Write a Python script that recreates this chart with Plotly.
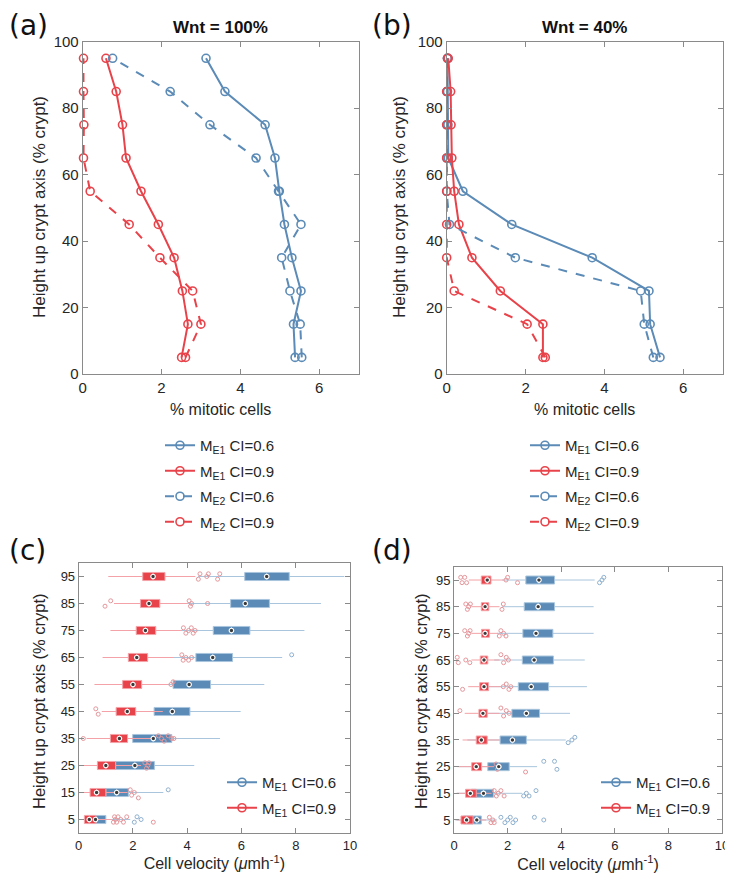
import plotly.graph_objects as go

# ---------------- data ----------------
heights = [5, 15, 25, 35, 45, 55, 65, 75, 85, 95]

# panel (a) Wnt = 100%  (% mitotic cells)
a_me1_06 = [5.39, 5.35, 5.54, 5.31, 5.12, 4.99, 4.88, 4.63, 3.61, 3.13]
a_me1_09 = [2.51, 2.67, 2.53, 2.32, 1.92, 1.48, 1.10, 1.01, 0.85, 0.59]
a_me2_06 = [5.56, 5.52, 5.26, 5.05, 5.54, 4.97, 4.40, 3.23, 2.22, 0.76]
a_me2_09 = [2.61, 3.00, 2.79, 1.96, 1.18, 0.19, 0.02, 0.03, 0.02, 0.02]

# panel (b) Wnt = 40%
b_me1_06 = [5.41, 5.16, 5.13, 3.69, 1.65, 0.41, 0.04, 0.03, 0.02, 0.02]
b_me1_09 = [2.44, 2.44, 1.36, 0.64, 0.31, 0.19, 0.13, 0.11, 0.10, 0.04]
b_me2_06 = [5.24, 5.01, 4.92, 1.74, 0.07, 0.00, 0.00, 0.00, 0.00, 0.02]
b_me2_09 = [2.50, 2.04, 0.19, 0.00, 0.00, 0.00, 0.00, 0.00, 0.00, 0.02]

series_names = ["M<sub>E1</sub> CI=0.6", "M<sub>E1</sub> CI=0.9",
                "M<sub>E2</sub> CI=0.6", "M<sub>E2</sub> CI=0.9"]

# panel (c) cell velocity, Wnt = 100%
c_blue_q1 = [0.30, 1.00, 1.36, 1.99, 2.78, 3.48, 4.32, 4.96, 5.60, 6.12]
c_blue_med = [0.62, 1.40, 2.07, 2.75, 3.45, 4.07, 4.94, 5.63, 6.14, 6.93]
c_blue_q3 = [1.00, 1.83, 2.79, 3.43, 4.10, 4.86, 5.67, 6.31, 7.03, 7.76]
c_blue_lo = [0.00, 0.05, 0.10, 0.50, 1.00, 1.60, 2.50, 3.00, 3.60, 4.40]
c_blue_hi = [1.90, 3.12, 4.26, 5.21, 5.97, 6.84, 7.50, 8.32, 8.93, 9.79]
c_red_q1 = [0.21, 0.42, 0.69, 1.17, 1.38, 1.62, 1.83, 2.12, 2.28, 2.36]
c_red_med = [0.39, 0.66, 1.00, 1.50, 1.79, 2.00, 2.14, 2.46, 2.59, 2.74]
c_red_q3 = [0.64, 1.00, 1.36, 1.80, 2.10, 2.32, 2.54, 2.84, 2.99, 3.18]
c_red_lo = [0.05, 0.01, 0.08, 0.29, 0.85, 0.58, 0.88, 1.17, 1.30, 1.09]
c_red_hi = [1.20, 1.80, 2.30, 2.80, 3.10, 3.30, 3.50, 3.80, 4.00, 4.30]
c_red_out_x = [1.28, 1.32, 1.35, 1.40, 1.45, 1.55, 1.65, 1.77, 2.75,
               1.90, 1.95, 2.05, 2.20,
               2.44, 2.50, 2.55, 2.59,
               0.17, 2.94, 3.05, 3.15, 3.30, 3.43, 3.51,
               0.63, 0.72,
               3.40, 3.48,
               3.80, 3.85, 3.95, 4.05, 4.16,
               3.86, 3.95, 4.05, 4.15, 4.22, 4.29,
               0.97, 1.18, 4.07, 4.12, 4.16, 4.75,
               4.41, 4.47, 4.72, 4.78, 5.12, 5.20]
c_red_out_y = [4, 6, 5, 4, 6, 5, 4, 6, 4,
               16, 14, 15, 13,
               26, 24, 25, 26,
               35, 36, 35, 34, 36, 35, 35,
               46, 44,
               55, 56,
               66, 64, 65, 64, 65,
               76, 74, 75, 76, 74, 75,
               84, 86, 86, 84, 85, 85,
               94, 96, 95, 96, 94, 96]
c_blue_out_x = [2.05, 2.15, 2.30, 3.30, 7.85]
c_blue_out_y = [4, 6, 5, 16, 66]

# panel (d) cell velocity, Wnt = 40%
d_blue_q1 = [0.35, 0.65, 1.26, 1.72, 2.16, 2.40, 2.55, 2.57, 2.62, 2.68]
d_blue_med = [0.85, 1.10, 1.67, 2.18, 2.70, 2.88, 2.99, 3.06, 3.14, 3.17]
d_blue_q3 = [1.02, 1.47, 2.06, 2.70, 3.19, 3.53, 3.71, 3.69, 3.75, 3.75]
d_blue_lo = [0.05, 0.10, 0.20, 0.50, 1.00, 1.30, 1.50, 1.60, 1.80, 1.80]
d_blue_hi = [1.60, 2.55, 3.10, 4.17, 4.33, 4.96, 4.88, 5.21, 5.21, 5.25]
d_red_q1 = [0.26, 0.43, 0.66, 0.83, 0.93, 0.96, 0.98, 1.03, 1.02, 1.02]
d_red_med = [0.47, 0.61, 0.83, 1.02, 1.08, 1.12, 1.12, 1.16, 1.16, 1.24]
d_red_q3 = [0.71, 0.83, 1.03, 1.24, 1.24, 1.29, 1.26, 1.32, 1.30, 1.38]
d_red_lo = [0.10, 0.10, 0.12, 0.32, 0.40, 0.53, 0.65, 0.65, 0.65, 0.55]
d_red_hi = [1.20, 1.40, 1.50, 1.70, 1.70, 1.75, 1.70, 1.65, 1.70, 1.85]
d_red_out_x = [1.32, 1.38, 1.45, 1.50,
               1.50, 1.58, 1.65, 1.75, 1.87,
               1.57, 1.62, 1.69, 2.67,
               0.22, 1.75, 1.85, 1.95, 2.06,
               0.32, 1.84, 1.95, 2.05, 2.12,
               0.12, 0.16, 0.44, 0.59, 1.75, 1.85, 1.95, 2.03,
               0.40, 0.50, 0.55, 0.60, 1.69, 1.75, 1.85, 1.94,
               0.44, 0.50, 0.55, 0.61, 1.79, 1.84,
               0.25, 0.30, 0.40, 0.47, 1.94, 2.00, 2.37]
d_red_out_y = [6, 4, 5, 4,
               16, 14, 15, 16, 14,
               26, 24, 25, 23,
               46, 47, 44, 46, 45,
               54, 55, 56, 54, 55,
               66, 64, 65, 64, 67, 64, 66, 65,
               76, 74, 75, 76, 74, 76, 75, 74,
               86, 84, 85, 86, 84, 86,
               96, 94, 96, 94, 95, 96, 94]
d_blue_out_x = [1.75, 1.90, 2.00, 2.10, 2.20, 2.30, 3.00, 3.35,
                2.60, 2.70, 2.80, 3.06,
                3.35, 3.75, 3.84,
                4.26, 4.40, 4.51,
                5.43, 5.52, 5.59]
d_blue_out_y = [6, 4, 5, 6, 4, 5, 6, 5,
                14, 15, 14, 16,
                27, 27, 24,
                34, 35, 36,
                94, 95, 96]

# ---------------- style ----------------
BLUE = "#5b8bb6"
RED = "#e8434a"
BLUE_L = "#a9c5dd"
RED_L = "#f4a2a7"
BLUE_O = "#8fb1cf"
RED_O = "#e5979c"
FONT = "Liberation Sans, Arial, sans-serif"
AXC = "#8a8a8a"
TXT = "#262626"

# the page body has an 8px margin, so the figure is sized to fill the rest
OFF = 8
W, H = 733 - OFF, 877 - OFF


def px_x(x):
    return (x - OFF) / W


def px_y(y):
    return 1 - (y - OFF) / H


fig = go.Figure()

line_specs = [(BLUE, "solid"), (RED, "solid"), (BLUE, "dash"), (RED, "dash")]

for (xs_list, xa, ya, leg) in [
    ([a_me1_06, a_me1_09, a_me2_06, a_me2_09], "x", "y", "legend"),
    ([b_me1_06, b_me1_09, b_me2_06, b_me2_09], "x2", "y2", "legend2"),
]:
    for i, xs in enumerate(xs_list):
        col, dash = line_specs[i]
        fig.add_trace(go.Scatter(
            x=xs, y=heights, mode="lines+markers", name=series_names[i],
            line=dict(color=col, width=2, dash=dash),
            marker=dict(symbol="circle-open", size=8, color=col,
                        line=dict(width=1.6, color=col)),
            cliponaxis=False, xaxis=xa, yaxis=ya, legend=leg,
            legendgroup=leg + str(i)))


def add_boxes(xa, ya, leg, stats_blue, stats_red, out_blue, out_red):
    for stats, fill, light in [(stats_blue, BLUE, BLUE_L), (stats_red, RED, RED_L)]:
        q1, med, q3, lo, hi = stats
        fig.add_trace(go.Box(
            y=heights, q1=q1, median=med, q3=q3, lowerfence=lo, upperfence=hi,
            orientation="h", fillcolor=fill, line=dict(color=light, width=1),
            whiskerwidth=0, width=3.0, boxpoints=False, showlegend=False,
            hoverinfo="skip", xaxis=xa, yaxis=ya))
    for (ox, oy), col in [(out_blue, BLUE_O), (out_red, RED_O)]:
        fig.add_trace(go.Scatter(
            x=ox, y=oy, mode="markers", showlegend=False,
            marker=dict(symbol="circle-open", size=4, color=col,
                        line=dict(width=1, color=col)),
            xaxis=xa, yaxis=ya))
    for stats, fill in [(stats_blue, BLUE), (stats_red, RED)]:
        fig.add_trace(go.Scatter(
            x=stats[1], y=heights, mode="markers", showlegend=False,
            marker=dict(symbol="circle", size=4.5, color="#3a3a3a",
                        line=dict(width=1.2, color="white")),
            xaxis=xa, yaxis=ya))
    for i, col in enumerate([BLUE, RED]):
        fig.add_trace(go.Scatter(
            x=[None], y=[None], mode="lines+markers", name=series_names[i],
            line=dict(color=col, width=2),
            marker=dict(symbol="circle-open", size=8, color=col,
                        line=dict(width=1.6, color=col)),
            xaxis=xa, yaxis=ya, legend=leg, legendgroup=leg + str(i)))


add_boxes("x3", "y3", "legend3",
          (c_blue_q1, c_blue_med, c_blue_q3, c_blue_lo, c_blue_hi),
          (c_red_q1, c_red_med, c_red_q3, c_red_lo, c_red_hi),
          (c_blue_out_x, c_blue_out_y), (c_red_out_x, c_red_out_y))
add_boxes("x4", "y4", "legend4",
          (d_blue_q1, d_blue_med, d_blue_q3, d_blue_lo, d_blue_hi),
          (d_red_q1, d_red_med, d_red_q3, d_red_lo, d_red_hi),
          (d_blue_out_x, d_blue_out_y), (d_red_out_x, d_red_out_y))

# ---------------- axes ----------------
common = dict(showline=True, linecolor=AXC, linewidth=1, mirror="ticks",
              ticks="inside", ticklen=5, tickcolor=AXC, showgrid=False,
              zeroline=False, color=TXT, automargin=False,
              ticklabeloverflow="allow")

top_y = [px_y(374), px_y(41.7)]
vel_title = "Cell velocity (<i>\u03bc</i>mh<sup>-1</sup>)"
fig.update_layout(
    xaxis=dict(domain=[px_x(82.7), px_x(358.5)], range=[0, 7], tickvals=[0, 2, 4, 6],
               anchor="y", tickfont=dict(size=15, family=FONT),
               title=dict(text="% mitotic cells", font=dict(size=16, family=FONT), standoff=8),
               **common),
    yaxis=dict(domain=top_y, range=[0, 100], tickvals=[0, 20, 40, 60, 80, 100],
               anchor="x", tickfont=dict(size=15, family=FONT), **common),
    xaxis2=dict(domain=[px_x(446.7), px_x(722.7)], range=[0, 7], tickvals=[0, 2, 4, 6],
                anchor="y2", tickfont=dict(size=15, family=FONT),
                title=dict(text="% mitotic cells", font=dict(size=16, family=FONT), standoff=8),
                **common),
    yaxis2=dict(domain=top_y, range=[0, 100], tickvals=[0, 20, 40, 60, 80, 100],
                anchor="x2", tickfont=dict(size=15, family=FONT), **common),
    xaxis3=dict(domain=[px_x(78.7), px_x(350)], range=[0, 10], tickvals=[0, 2, 4, 6, 8, 10],
                anchor="y3", tickfont=dict(size=13, family=FONT),
                title=dict(text=vel_title, font=dict(size=16, family=FONT), standoff=5),
                **common),
    yaxis3=dict(domain=[px_y(833), px_y(563)], range=[0, 100], tickvals=heights,
                anchor="x3", tickfont=dict(size=13, family=FONT), **common),
    xaxis4=dict(domain=[px_x(454), px_x(722)], range=[0, 10], tickvals=[0, 2, 4, 6, 8, 10],
                anchor="y4", tickfont=dict(size=13, family=FONT),
                title=dict(text=vel_title, font=dict(size=16, family=FONT), standoff=5),
                **common),
    yaxis4=dict(domain=[px_y(833.3), px_y(566.7)], range=[0, 100], tickvals=heights,
                anchor="x4", tickfont=dict(size=13, family=FONT), **common),
)

leg_common = dict(font=dict(size=15, family=FONT, color=TXT), bgcolor="rgba(0,0,0,0)",
                  xanchor="left", yanchor="top", tracegroupgap=3, itemwidth=30)
fig.update_layout(
    legend=dict(x=px_x(160), y=px_y(429), **leg_common),
    legend2=dict(x=px_x(525), y=px_y(429), **leg_common),
    legend3=dict(x=px_x(222), y=px_y(766), **leg_common),
    legend4=dict(x=px_x(596), y=px_y(766), **leg_common),
)

# ---------------- annotations ----------------
ann = []
for txt, x, y in [("(a)", 8, 8), ("(b)", 371, 8), ("(c)", 8, 533), ("(d)", 371, 533)]:
    ann.append(dict(text=txt, x=px_x(x), y=px_y(y), xref="paper", yref="paper",
                    xanchor="left", yanchor="top", showarrow=False, borderpad=0,
                    font=dict(size=28, family="DejaVu Sans", color="#111")))
for txt, xc in [("<b>Wnt = 100%</b>", 220.6), ("<b>Wnt = 40%</b>", 584.7)]:
    ann.append(dict(text=txt, x=px_x(xc), y=px_y(27.7), xref="paper", yref="paper",
                    xanchor="center", yanchor="middle", showarrow=False,
                    font=dict(size=17, family=FONT, color="#111")))
# y-axis titles (rotated text placed beside each panel)
for xc, yc, fs in [(39, 207, 17), (399, 207, 17), (39, 702, 16.5), (421, 702, 16.5)]:
    ann.append(dict(text="Height up crypt axis (% crypt)", x=px_x(xc), y=px_y(yc),
                    xref="paper", yref="paper", xanchor="center", yanchor="middle",
                    textangle=-90, showarrow=False,
                    font=dict(size=fs, family=FONT, color=TXT)))

fig.update_layout(
    annotations=ann, width=W, height=H,
    margin=dict(l=0, r=0, t=0, b=0, pad=0, autoexpand=False),
    paper_bgcolor="white", plot_bgcolor="white", boxmode="overlay",
    font=dict(family=FONT, color=TXT),
)

fig.write_html("out.html")
